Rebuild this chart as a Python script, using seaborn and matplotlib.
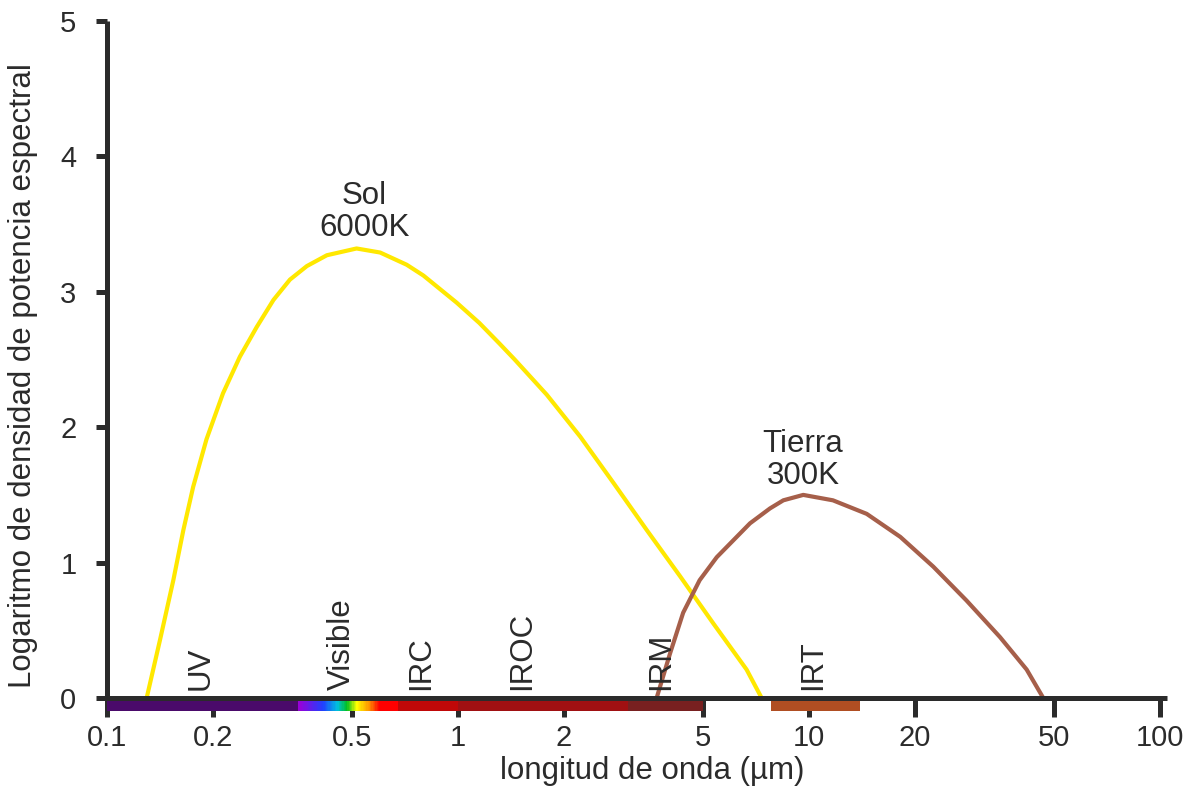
import numpy as np
import pandas as pd
import matplotlib
matplotlib.use("Agg")
import matplotlib.pyplot as plt
from matplotlib.colors import LinearSegmentedColormap
import seaborn as sns

# Espectro del Sol (cuerpo negro ~6000 K)
sol_lambda = [0.1297, 0.1416, 0.1545, 0.165, 0.176, 0.192, 0.214, 0.239, 0.267, 0.298,
              0.332, 0.371, 0.423, 0.514, 0.600, 0.714, 0.797, 0.991, 1.15, 1.31,
              1.45, 1.79, 2.23, 2.77, 3.45, 4.29, 5.34, 6.64, 7.33]
sol_valor = [0.0, 0.43, 0.87, 1.24, 1.56, 1.91, 2.25, 2.52, 2.74, 2.94,
             3.09, 3.19, 3.27, 3.32, 3.29, 3.20, 3.12, 2.92, 2.77, 2.62,
             2.50, 2.24, 1.93, 1.59, 1.24, 0.90, 0.55, 0.21, 0.0]

# Espectro de la Tierra (cuerpo negro ~300 K)
tierra_lambda = [3.68, 4.02, 4.38, 4.88, 5.46, 6.79, 7.74, 8.45, 9.63, 11.7,
                 14.6, 18.2, 22.6, 28.1, 35.0, 41.7, 46.5]
tierra_valor = [0.0, 0.33, 0.63, 0.87, 1.04, 1.29, 1.40, 1.46, 1.50, 1.46,
                1.36, 1.19, 0.97, 0.72, 0.45, 0.21, 0.0]

# Bandas espectrales (inicio, fin, color)
bandas_nombre = ["UV", "IRC", "IROC", "IRM", "IRT"]
bandas_inicio = [0.1, 0.675, 1.0, 3.05, 7.8]
bandas_fin = [0.35, 1.0, 3.05, 5.0, 14.0]
bandas_color = ["#4a0a6a", "#c00808", "#a01012", "#782020", "#b04e22"]

# Banda visible: paradas de color del arcoíris
visible_lambda = [0.35, 0.412, 0.452, 0.483, 0.515, 0.561, 0.598, 0.675]
visible_color = ["#9a00d8", "#2040ff", "#00c0e0", "#00c020", "#ffff00",
                 "#ff9000", "#ff0000", "#ff0000"]

# Etiquetas de banda (texto, posición)
etiquetas_texto = ["UV", "Visible", "IRC", "IROC", "IRM", "IRT"]
etiquetas_lambda = [0.185, 0.468, 0.785, 1.52, 3.79, 10.3]

xticks = [0.1, 0.2, 0.5, 1, 2, 5, 10, 20, 50, 100]
xtick_labels = ["0.1", "0.2", "0.5", "1", "2", "5", "10", "20", "50", "100"]
yticks = [0, 1, 2, 3, 4, 5]

sns.set_style("ticks")
plt.rcParams["font.family"] = ["Liberation Sans", "DejaVu Sans"]

ink = "#2b2b2b"
fs_text = 22.5
fs_tick = 21
fig = plt.figure(figsize=(11.95, 7.87), dpi=100)
ax = fig.add_axes([100 / 1195, 1 - 698 / 787, 1067 / 1195, 677 / 787])

sol = pd.DataFrame({"lambda": sol_lambda, "valor": sol_valor})
tierra = pd.DataFrame({"lambda": tierra_lambda, "valor": tierra_valor})
sns.lineplot(data=sol, x="lambda", y="valor", ax=ax, color="#ffe800", lw=3.0)
sns.lineplot(data=tierra, x="lambda", y="valor", ax=ax, color="#a65f4a", lw=3.0)
for ln in ax.lines:
    ln.set_solid_joinstyle("round")

ax.set_xscale("log")
ax.set_xlim(0.0955, 104.7)
ax.set_ylim(0, 5)

# Barra de bandas bajo el eje
y0, y1 = -0.095, -0.018
for ini, fin, col in zip(bandas_inicio, bandas_fin, bandas_color):
    ax.bar(ini, y1 - y0, width=fin - ini, bottom=y0, align="edge",
           color=col, lw=0, clip_on=False, zorder=1)

cmap = LinearSegmentedColormap.from_list(
    "vis", list(zip((np.log10(visible_lambda) - np.log10(visible_lambda[0]))
                    / (np.log10(visible_lambda[-1]) - np.log10(visible_lambda[0])),
                    visible_color)))
edges = np.logspace(np.log10(visible_lambda[0]), np.log10(visible_lambda[-1]), 80)
for a, b, t in zip(edges[:-1], edges[1:], np.linspace(0, 1, len(edges) - 1)):
    ax.bar(a, y1 - y0, width=(b - a) * 1.02, bottom=y0, align="edge",
           color=cmap(t), lw=0, clip_on=False, zorder=1)

for txt, lam in zip(etiquetas_texto, etiquetas_lambda):
    ax.text(lam, 0.06, txt, rotation=90, ha="center", va="bottom",
            fontsize=fs_text, color=ink)

ax.text(0.54, 3.36, "Sol\n6000K", ha="center", va="bottom", fontsize=fs_text,
        color=ink, linespacing=1.1)
ax.text(9.6, 1.53, "Tierra\n300K", ha="center", va="bottom", fontsize=fs_text,
        color=ink, linespacing=1.1)

ax.set_xticks(xticks)
ax.set_xticklabels(xtick_labels)
ax.xaxis.set_minor_locator(matplotlib.ticker.NullLocator())
ax.set_yticks(yticks)

for s in ["left", "bottom"]:
    ax.spines[s].set_linewidth(3.6)
    ax.spines[s].set_color(ink)
    ax.spines[s].set_capstyle("butt")
sns.despine(ax=ax)
ax.spines["left"].set_position(("data", 0.1))
ax.spines["left"].set_bounds(0, 5)

ax.tick_params(axis="x", length=13.4, width=3.6, color=ink, labelsize=fs_tick,
               labelcolor=ink, pad=5)
ax.tick_params(axis="y", length=8, width=3.6, color=ink, labelsize=fs_tick,
               labelcolor=ink, pad=14)

ax.set_xlabel("longitud de onda (µm)", fontsize=fs_text, color=ink)
ax.set_ylabel("Logaritmo de densidad de potencia espectral", fontsize=fs_text, color=ink)
ax.xaxis.set_label_coords(0.518, -0.085)
ax.xaxis.label.set_va("top")
ax.yaxis.set_label_coords(-0.058, 0.476)

fig.savefig("out.png", dpi=100)
